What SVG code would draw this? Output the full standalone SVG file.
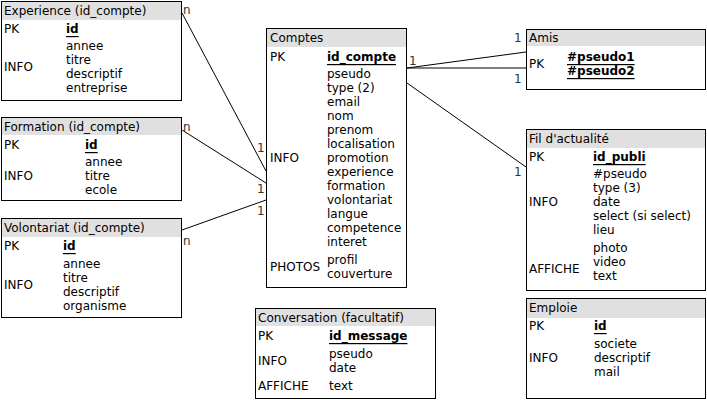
<svg xmlns="http://www.w3.org/2000/svg" width="707" height="400" viewBox="0 0 707 400">
<style>
text{font-family:"DejaVu Sans","Liberation Sans",sans-serif;font-size:12px;fill:#000;dominant-baseline:central}
.box{fill:#fff;stroke:#000;stroke-width:1}
.hd{fill:#e0e0e0;stroke:none}
.k{font-weight:bold;text-decoration:underline}
.c line{stroke:#000;stroke-width:1}
.c text{fill:#333}
</style>
<rect width="707" height="400" fill="#fff"/>
<g class="c" id="connectors">
<line x1="182" y1="13" x2="266" y2="171"/>
<line x1="182" y1="130" x2="266" y2="183"/>
<line x1="182" y1="230" x2="266" y2="200"/>
<line x1="407" y1="68" x2="526" y2="52"/>
<line x1="407" y1="68" x2="526" y2="68"/>
<line x1="407" y1="83" x2="526" y2="167"/>
<text x="183" y="10">n</text>
<text x="257" y="148">1</text>
<text x="183" y="127">n</text>
<text x="257" y="189">1</text>
<text x="183" y="241">n</text>
<text x="257" y="211">1</text>
<text x="409" y="61">1</text>
<text x="514" y="38">1</text>
<text x="514" y="79">1</text>
<text x="514" y="172">1</text>
</g>
<g id="experience">
<rect class="box" x="1.5" y="1.5" width="180" height="99"/>
<rect class="hd" x="2" y="2" width="179" height="18"/>
<text x="4" y="11">Experience (id_compte)</text>
<text x="4" y="29">PK</text><text x="66" y="29" class="k">id</text>
<text x="4" y="67">INFO</text>
<text x="66" y="46">annee</text><text x="66" y="60">titre</text><text x="66" y="74">descriptif</text><text x="66" y="88">entreprise</text>
</g>
<g id="formation">
<rect class="box" x="1.5" y="117.5" width="180" height="83"/>
<rect class="hd" x="2" y="118" width="179" height="17"/>
<text x="4" y="127">Formation (id_compte)</text>
<text x="4" y="145">PK</text><text x="85" y="145" class="k">id</text>
<text x="4" y="176">INFO</text>
<text x="85" y="162">annee</text><text x="85" y="176">titre</text><text x="85" y="190">ecole</text>
</g>
<g id="volontariat">
<rect class="box" x="1.5" y="218.5" width="180" height="99"/>
<rect class="hd" x="2" y="219" width="179" height="18"/>
<text x="4" y="228">Volontariat (id_compte)</text>
<text x="4" y="246">PK</text><text x="63" y="246" class="k">id</text>
<text x="4" y="285">INFO</text>
<text x="63" y="264">annee</text><text x="63" y="278">titre</text><text x="63" y="292">descriptif</text><text x="63" y="306">organisme</text>
</g>
<g id="comptes">
<rect class="box" x="266.5" y="28.5" width="140" height="259"/>
<rect class="hd" x="267" y="29" width="139" height="18"/>
<text x="270" y="38">Comptes</text>
<text x="270" y="57">PK</text><text x="327" y="57" class="k">id_compte</text>
<text x="270" y="158">INFO</text>
<text x="327" y="74">pseudo</text><text x="327" y="88">type (2)</text><text x="327" y="102">email</text><text x="327" y="116">nom</text><text x="327" y="130">prenom</text><text x="327" y="144">localisation</text><text x="327" y="158">promotion</text><text x="327" y="172">experience</text><text x="327" y="186">formation</text><text x="327" y="200">volontariat</text><text x="327" y="214">langue</text><text x="327" y="228">competence</text><text x="327" y="242">interet</text>
<text x="270" y="267">PHOTOS</text>
<text x="327" y="260">profil</text><text x="327" y="274">couverture</text>
</g>
<g id="amis">
<rect class="box" x="526.5" y="29.5" width="179" height="60"/>
<rect class="hd" x="527" y="30" width="178" height="16"/>
<text x="529" y="38">Amis</text>
<text x="529" y="64">PK</text>
<text x="567" y="57" class="k">#pseudo1</text><text x="567" y="71" class="k">#pseudo2</text>
</g>
<g id="fil">
<rect class="box" x="526.5" y="129.5" width="179" height="161"/>
<rect class="hd" x="527" y="130" width="178" height="18"/>
<text x="529" y="139">Fil d'actualité</text>
<text x="529" y="157">PK</text><text x="593" y="157" class="k">id_publi</text>
<text x="529" y="202">INFO</text>
<text x="593" y="174">#pseudo</text><text x="593" y="188">type (3)</text><text x="593" y="202">date</text><text x="593" y="216">select (si select)</text><text x="593" y="230">lieu</text>
<text x="529" y="269">AFFICHE</text>
<text x="593" y="248">photo</text><text x="593" y="262">video</text><text x="593" y="276">text</text>
</g>
<g id="emploie">
<rect class="box" x="526.5" y="298.5" width="179" height="100"/>
<rect class="hd" x="527" y="299" width="178" height="19"/>
<text x="529" y="308">Emploie</text>
<text x="529" y="326">PK</text><text x="594" y="326" class="k">id</text>
<text x="529" y="358">INFO</text>
<text x="594" y="344">societe</text><text x="594" y="358">descriptif</text><text x="594" y="372">mail</text>
</g>
<g id="conversation">
<rect class="box" x="255.5" y="308.5" width="180" height="90"/>
<rect class="hd" x="256" y="309" width="179" height="17"/>
<text x="258" y="318">Conversation (facultatif)</text>
<text x="258" y="336">PK</text><text x="329" y="336" class="k">id_message</text>
<text x="258" y="361">INFO</text>
<text x="329" y="354">pseudo</text><text x="329" y="368">date</text>
<text x="258" y="386">AFFICHE</text><text x="329" y="386">text</text>
</g>
</svg>
